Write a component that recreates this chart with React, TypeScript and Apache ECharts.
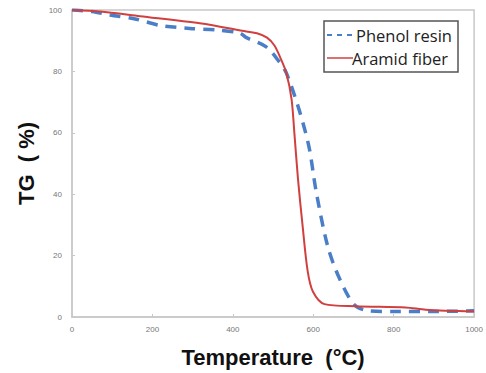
import React, { useEffect, useRef } from "react";
import * as echarts from "echarts";

const phenolTemps = [0, 50, 94, 160, 218, 293, 359, 417, 434, 483, 516, 533, 566, 590, 607, 636, 665, 702, 740, 800, 900, 1000];
const phenolTG = [100, 99.5, 98.4, 97, 95, 94, 93.5, 92.5, 91, 88, 83, 79.5, 67, 55, 41, 23, 12.6, 4, 2, 1.8, 1.8, 2];
const aramidTemps = [0, 70, 169, 318, 434, 460, 485, 503, 518, 533, 546, 553, 562, 574, 586, 599, 628, 706, 830, 880, 1000];
const aramidTG = [100, 99.5, 98, 95.7, 93, 92.4, 91, 88.5, 84.5, 79.5, 71, 60, 45, 29, 15, 8.3, 4.2, 3.5, 3.1, 2.4, 1.8];
const xTicks = [0, 200, 400, 600, 800, 1000];
const yTicks = [0, 20, 40, 60, 80, 100];
const seriesNames = ["Phenol resin", "Aramid fiber"];
const blue = "#4a7fc8";
const red = "#d0403f";

export default function App() {
  const ref = useRef<HTMLDivElement>(null);
  useEffect(() => {
    const chart = echarts.init(ref.current!, null, { renderer: "svg" });
    const pair = (xs: number[], ys: number[]) => xs.map((x, i) => [x, ys[i]]);
    const legendText = { fontFamily: "Open Sans", fontSize: 16.5, fill: "#222", verticalAlign: "middle" };
    chart.setOption({
      animation: false,
      backgroundColor: "#fff",
      grid: {
        left: 72, right: 11, top: 10, bottom: 54,
        show: true, borderColor: "#c8c8c8", borderWidth: 1.5,
      },
      graphic: [
        { type: "rect", shape: { x: 324, y: 21, width: 134, height: 51 }, style: { fill: "#fff", stroke: "#555", lineWidth: 1.5 }, z: 10 },
        { type: "line", shape: { x1: 327, y1: 35, x2: 353, y2: 35 }, style: { stroke: blue, lineWidth: 2, lineDash: [5, 5] }, z: 11 },
        { type: "line", shape: { x1: 327, y1: 58, x2: 353, y2: 58 }, style: { stroke: red, lineWidth: 1.5 }, z: 11 },
        { type: "text", x: 356, y: 35, style: { text: seriesNames[0], ...legendText }, z: 11 },
        { type: "text", x: 352, y: 58, style: { text: seriesNames[1], ...legendText }, z: 11 },
      ],
      xAxis: {
        type: "value", min: 0, max: 1000, interval: 200,
        name: "Temperature  (°C)", nameLocation: "middle", nameGap: 29,
        nameTextStyle: { fontFamily: "Liberation Sans", fontWeight: "bold", fontSize: 22, color: "#111" },
        axisLine: { lineStyle: { color: "#c8c8c8", width: 1.5 } },
        axisTick: { show: true, inside: true, length: 3, lineStyle: { color: "#c8c8c8" } },
        splitLine: { show: false },
        axisLabel: { fontSize: 8, color: "#777", margin: 8, formatter: (v: number) => (xTicks.includes(v) ? String(v) : "") },
      },
      yAxis: {
        type: "value", min: 0, max: 100, interval: 20,
        name: "TG  ( %)", nameLocation: "middle", nameGap: 31,
        nameTextStyle: { fontFamily: "Liberation Sans", fontWeight: "bold", fontSize: 22, color: "#111" },
        axisLine: { show: true, lineStyle: { color: "#c8c8c8", width: 1.5 } },
        axisTick: { show: true, inside: true, length: 3, lineStyle: { color: "#c8c8c8" } },
        splitLine: { show: false },
        axisLabel: { fontSize: 8, color: "#777", margin: 10, formatter: (v: number) => (yTicks.includes(v) ? String(v) : "") },
      },
      series: [
        {
          name: seriesNames[0], type: "line", showSymbol: false, symbol: "none", smooth: 0.3,
          data: pair(phenolTemps, phenolTG),
          lineStyle: { color: blue, width: 3.5, type: [11, 8] },
          z: 2,
        },
        {
          name: seriesNames[1], type: "line", showSymbol: false, symbol: "none", smooth: 0.3,
          data: pair(aramidTemps, aramidTG),
          lineStyle: { color: red, width: 2 },
          z: 3,
        },
      ],
    });
    return () => chart.dispose();
  }, []);
  return <div ref={ref} style={{ position: "fixed", left: 0, top: 0, width: 486, height: 373 }} />;
}
